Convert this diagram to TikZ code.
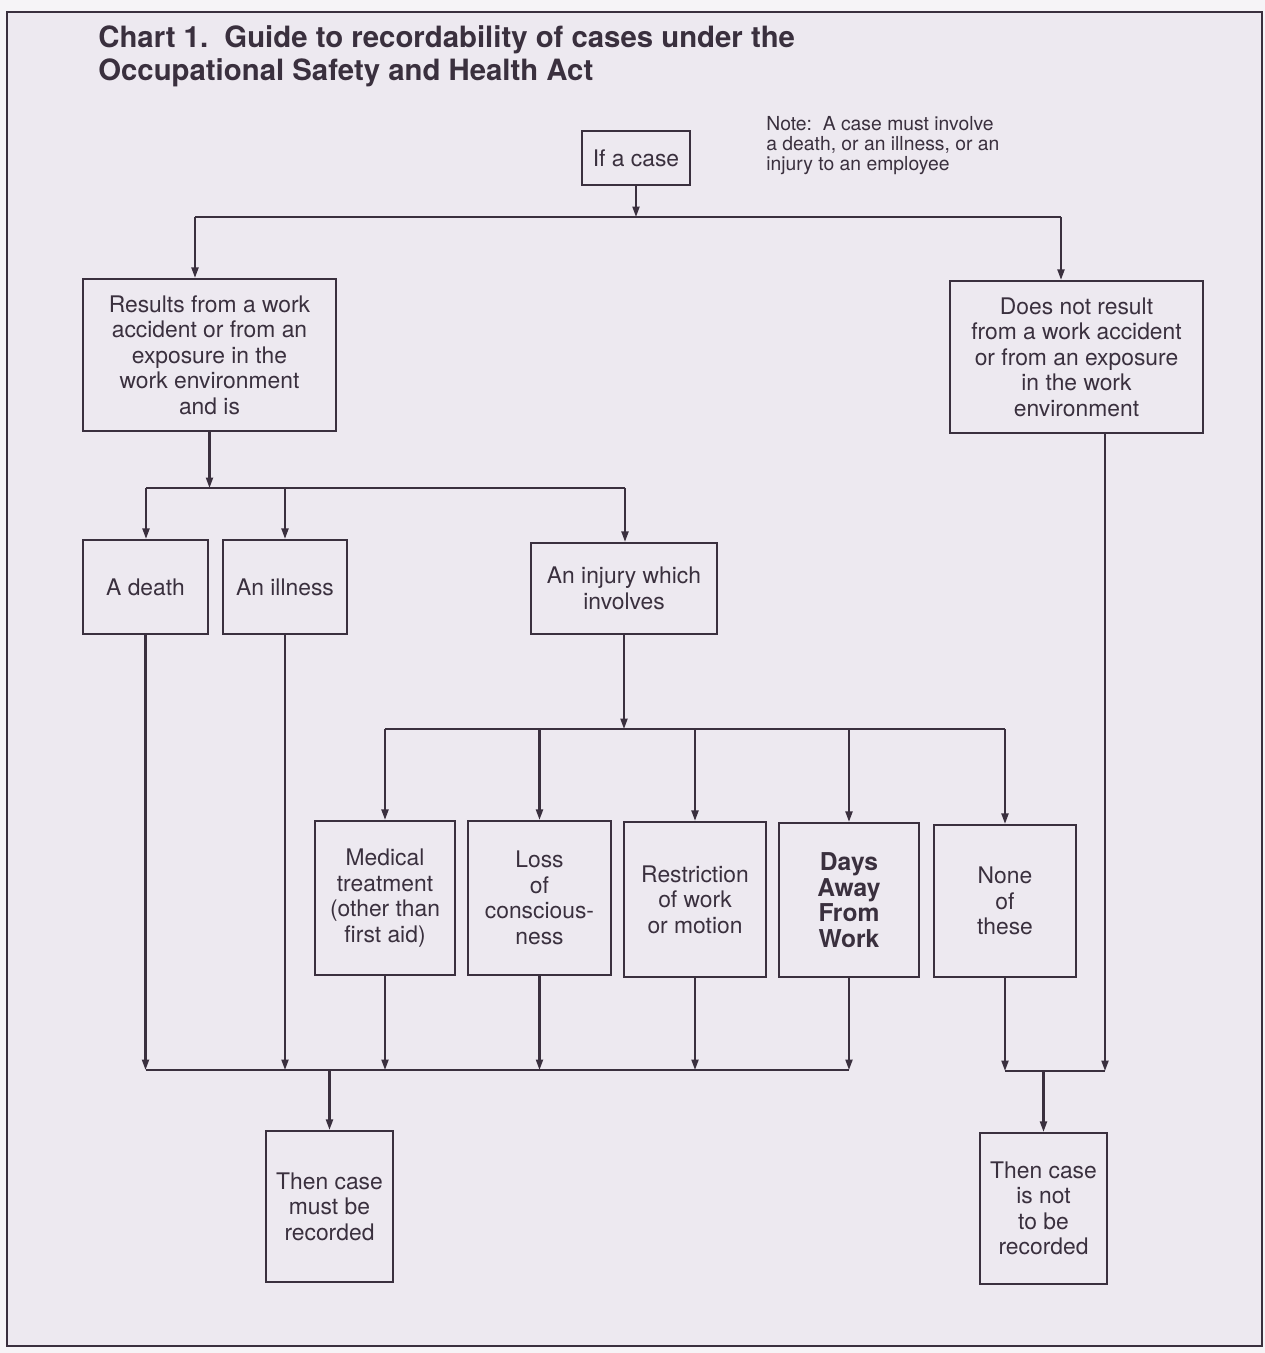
\documentclass[tikz,border=0pt]{standalone}
\usepackage{fontspec}
\setmainfont{TeX Gyre Heros}
\usetikzlibrary{arrows.meta}

\definecolor{paper}{RGB}{237,233,240}
\definecolor{margin}{RGB}{246,244,247}
\definecolor{ink}{RGB}{58,48,62}

\begin{document}
\begin{tikzpicture}[x=0.02cm,y=-0.02cm,
    box/.style={draw=ink,line width=1.3pt,align=center,inner sep=2pt,text=ink,
      font=\fontsize{13}{14.5}\selectfont},
    link/.style={draw=ink,line width=1.2pt},
    tip/.style={-{Triangle[length=2.1mm,width=1.4mm]}},
    title/.style={text=ink,inner sep=0pt,font=\bfseries\fontsize{16.7}{19}\selectfont},
    note/.style={text=ink,inner sep=0pt,align=left,font=\fontsize{11}{11.3}\selectfont}]

      % page and frame
      \fill[margin] (0,0) rectangle (1265,1353);
      \draw[ink,line width=1.2pt,fill=paper] (7,12) rectangle (1262,1346);

      \node[title,anchor=base west] (title1) at (98,47) {Chart 1.\ \ Guide to recordability of cases under the};
      \node[title,anchor=base west] (title2) at (98,80) {Occupational Safety and Health Act};
      \node[note,anchor=north west] (note) at (766,116) {Note:\ \ A case must involve\\a death, or an illness, or an\\injury to an employee};

      \begin{scope}[every node/.style=box]
        \node[minimum width=2.16cm,minimum height=1.08cm] (ifcase)    at (636,158)    {If a case};
        \node[minimum width=5.06cm,minimum height=3.04cm] (results)   at (209.5,355)  {Results from a work\\accident or from an\\exposure in the\\work environment\\and is};
        \node[minimum width=5.06cm,minimum height=3.04cm] (notresult) at (1076.5,357) {Does not result\\from a work accident\\or from an exposure\\in the work\\environment};
        \node[minimum width=2.50cm,minimum height=1.88cm] (death)     at (145.5,587)  {A death};
        \node[minimum width=2.48cm,minimum height=1.88cm] (illness)   at (285,587)    {An illness};
        \node[minimum width=3.72cm,minimum height=1.82cm] (injury)    at (624,588.5)  {An injury which\\involves};
        \node[minimum width=2.80cm,minimum height=3.08cm] (medical)   at (385,898)    {Medical\\treatment\\(other than\\first aid)};
        \node[minimum width=2.86cm,minimum height=3.08cm] (loss)      at (539.5,898)  {Loss\\of\\conscious-\\ness};
        \node[minimum width=2.84cm,minimum height=3.10cm] (restrict)  at (695,899.5)  {Restriction\\of work\\or motion};
        \node[minimum width=2.80cm,minimum height=3.08cm,
              font=\bfseries\fontsize{14}{14.5}\selectfont] (days) at (849,900) {Days\\Away\\From\\Work};
        \node[minimum width=2.84cm,minimum height=3.04cm] (none)      at (1005,901)   {None\\of\\these};
        \node[minimum width=2.54cm,minimum height=3.02cm] (mustrec)   at (329.5,1206.5) {Then case\\must be\\recorded};
        \node[minimum width=2.54cm,minimum height=3.02cm] (notrec)    at (1043.5,1208.5) {Then case\\is not\\to be\\recorded};
      \end{scope}

      % bus lines
      \coordinate (b1l) at (195,217);
      \coordinate (b1r) at (1061,217);
      \coordinate (b2l) at (146,488);
      \coordinate (b2r) at (625,488);
      \coordinate (b3l) at (385,729);
      \coordinate (b3r) at (1005,729);
      \coordinate (b4l) at (146,1070);
      \coordinate (b4r) at (849,1070);
      \coordinate (b5l) at (1005,1071);
      \coordinate (b5r) at (1105,1071);

      \draw[link] (b1l) -- (b1r);
      \draw[link] (b2l) -- (b2r);
      \draw[link] (b3l) -- (b3r);
      \draw[link] (b4l) -- (b4r);
      \draw[link] (b5l) -- (b5r);

      \begin{scope}[every edge/.style={link,tip}]
        \path (ifcase.south) edge (ifcase.south |- b1l);
        \path (b1l) edge (b1l |- results.north);
        \path (b1r) edge (b1r |- notresult.north);

        \path (results.south) edge (results.south |- b2l);
        \path (b2l) edge (b2l |- death.north);
        \path (illness.north |- b2l) edge (illness.north);
        \path (b2r) edge (b2r |- injury.north);

        \path (injury.south) edge (injury.south |- b3l);
        \path (medical.north |- b3l)  edge (medical.north);
        \path (loss.north |- b3l)     edge (loss.north);
        \path (restrict.north |- b3l) edge (restrict.north);
        \path (days.north |- b3l)     edge (days.north);
        \path (none.north |- b3l)     edge (none.north);

        \path (death.south)    edge (death.south |- b4l);
        \path (illness.south)  edge (illness.south |- b4l);
        \path (medical.south)  edge (medical.south |- b4l);
        \path (loss.south)     edge (loss.south |- b4l);
        \path (restrict.south) edge (restrict.south |- b4l);
        \path (days.south)     edge (days.south |- b4l);
        \path (mustrec.north |- b4l) edge (mustrec.north);

        \path (none.south) edge (none.south |- b5l);
        \path (notresult.south -| b5r) edge (b5r);
        \path (notrec.north |- b5l) edge (notrec.north);
      \end{scope}

    \end{tikzpicture}
\end{document}
